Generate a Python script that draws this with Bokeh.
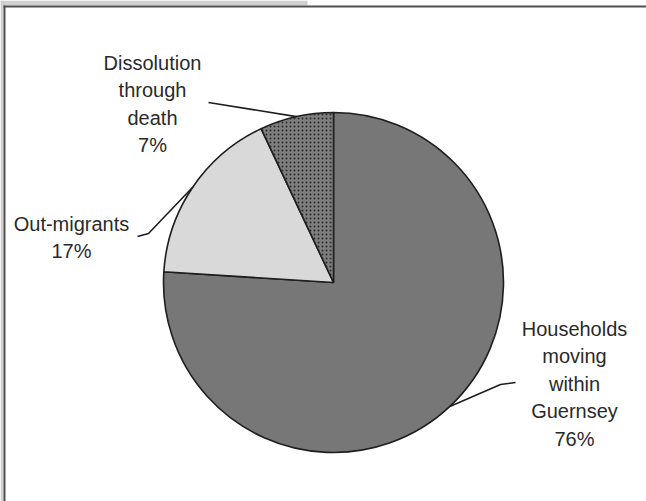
import numpy as np
from bokeh.plotting import figure
from bokeh.models import Range1d
from bokeh.embed import file_html
from bokeh.resources import INLINE
from bokeh.core.properties import value

# Destinations of households leaving their dwellings (shares in percent)
categories = ["Households moving within Guernsey", "Out-migrants", "Dissolution through death"]
label_lines = [["Households", "moving", "within", "Guernsey"],
               ["Out-migrants"],
               ["Dissolution", "through", "death"]]
shares = [76, 17, 7]

fills = ["#777777", "#d9d9d9", "#7e7e7e"]
hatches = [None, None, "dot"]

W, H = 646, 501
FONT = value("Liberation Sans")

p = figure(width=W, height=H, x_range=Range1d(0, W), y_range=Range1d(0, H),
           output_backend="svg", toolbar_location=None, min_border=0)
p.axis.visible = False
p.grid.visible = False
p.outline_line_color = None
p.background_fill_color = "white"
p.border_fill_color = "white"

# page frame: grey tab on the top left and dark rule lines
p.quad(left=0, right=307, top=H, bottom=H - 5, fill_color="#d0d0d0", line_color=None)
p.quad(left=0, right=3, top=H, bottom=0, fill_color="#d0d0d0", line_color=None)
p.segment(x0=3, y0=H - 6, x1=W, y1=H - 6, line_color="#505050", line_width=2)
p.segment(x0=4, y0=0, x1=4, y1=H - 5, line_color="#505050", line_width=2)

# pie, starting at 12 o'clock and running clockwise
cx, cy, r = 333, H - 282, 170
frac = np.array(shares, dtype=float) / sum(shares)
cum = np.concatenate([[0], np.cumsum(frac)])
starts = np.pi / 2 - 2 * np.pi * cum[:-1]
ends = np.pi / 2 - 2 * np.pi * cum[1:]

for s, e, fc, hp in zip(starts, ends, fills, hatches):
    kw = dict(x=cx, y=cy, radius=r, start_angle=s, end_angle=e, direction="clock",
              fill_color=fc, line_color="#1e1e1e", line_width=1.6)
    if hp:
        kw.update(hatch_pattern=hp, hatch_color="#2a2a2a", hatch_scale=4, hatch_weight=1.5)
    p.wedge(**kw)

# label blocks: centre x, first line y (from top), leader path start
label_pos = [(574, 328), (71, 223), (152, 62)]
leader_from = [[(515, 382), (500, 384)], [(137, 236), (148, 233)], [(208, 102)]]
line_gap = 27.5

for lines, share, (lx, ly), path, s, e in zip(label_lines, shares, label_pos,
                                             leader_from, starts, ends):
    texts = lines + [f"{share}%"]
    ys = [H - (ly + i * line_gap) for i in range(len(texts))]
    p.text(x=[lx] * len(texts), y=ys, text=texts, text_font=FONT,
           text_font_size="20px", text_color="#2a2a2a",
           text_align="center", text_baseline="middle")
    mid = (s + e) / 2
    px = [pt[0] for pt in path] + [cx + r * np.cos(mid)]
    py = [H - pt[1] for pt in path] + [cy + r * np.sin(mid)]
    p.line(x=px, y=py, line_color="#1e1e1e", line_width=1.6)

open("out.html", "w").write(file_html(p, INLINE))
